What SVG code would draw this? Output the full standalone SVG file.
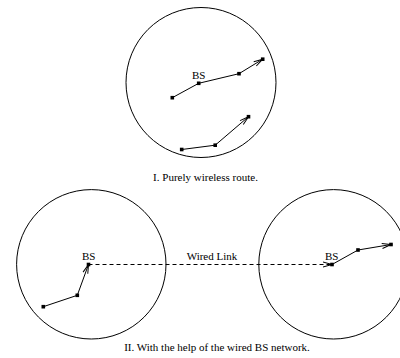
<svg xmlns="http://www.w3.org/2000/svg" width="400" height="358" viewBox="0 0 400 358">
<defs>
<style>
.cell{fill:none;stroke:#000;stroke-width:1}
.edge{fill:none;stroke:#000;stroke-width:1}
.dash{stroke-dasharray:4 3}
.node{fill:#000}
.lbl{font-family:"Liberation Serif","Times New Roman",serif;font-size:11px;fill:#000}
</style>
<marker id="arr" markerUnits="userSpaceOnUse" markerWidth="12" markerHeight="8" refX="9" refY="2.5" orient="auto" overflow="visible">
<path d="M0,0 L9,2.5 L0,5" fill="none" stroke="#000" stroke-width="1"/>
</marker>
</defs>
<rect width="400" height="358" fill="#fff"/>

<g id="cell-top">
<circle class="cell" cx="201" cy="82.5" r="75"/>
</g>
<g id="cell-left">
<circle class="cell" cx="91.3" cy="264.3" r="74.7"/>
</g>
<g id="cell-right">
<circle class="cell" cx="333.5" cy="264.3" r="74.7"/>
</g>

<g id="connectors">
<polyline class="edge" points="172.3,97.7 198.7,83.3 239,73.7"/>
<line class="edge" x1="239" y1="73.7" x2="262.7" y2="59.2" marker-end="url(#arr)"/>
<polyline class="edge" points="181.7,149.5 215.2,145.2"/>
<line class="edge" x1="215.2" y1="145.2" x2="248.5" y2="116.7" marker-end="url(#arr)"/>
<line class="edge" x1="43.3" y1="306.7" x2="77.3" y2="295.3"/>
<line class="edge" x1="77.3" y1="295.3" x2="88.5" y2="264.5" marker-end="url(#arr)"/>
<line class="edge dash" x1="88.5" y1="264.5" x2="332" y2="264.5" marker-end="url(#arr)"/>
<line class="edge" x1="332" y1="264.5" x2="358" y2="250"/>
<line class="edge" x1="358" y1="250" x2="391" y2="244.5" marker-end="url(#arr)"/>
</g>

<g id="nodes-top">
<rect class="node" x="170.5" y="95.9" width="3.6" height="3.6"/>
<rect class="node" x="196.9" y="81.5" width="3.6" height="3.6"/>
<rect class="node" x="237.2" y="71.9" width="3.6" height="3.6"/>
<rect class="node" x="260.9" y="57.4" width="3.6" height="3.6"/>
<rect class="node" x="179.9" y="147.7" width="3.6" height="3.6"/>
<rect class="node" x="213.4" y="143.4" width="3.6" height="3.6"/>
<rect class="node" x="246.7" y="114.9" width="3.6" height="3.6"/>
<text class="lbl" x="198.7" y="79" text-anchor="middle">BS</text>
</g>

<g id="nodes-left">
<rect class="node" x="41.5" y="304.9" width="3.6" height="3.6"/>
<rect class="node" x="75.5" y="293.5" width="3.6" height="3.6"/>
<rect class="node" x="86.7" y="262.7" width="3.6" height="3.6"/>
<text class="lbl" x="88.7" y="260" text-anchor="middle">BS</text>
</g>

<g id="nodes-right">
<rect class="node" x="330.2" y="262.7" width="3.6" height="3.6"/>
<rect class="node" x="356.2" y="248.2" width="3.6" height="3.6"/>
<rect class="node" x="389.2" y="242.7" width="3.6" height="3.6"/>
<text class="lbl" x="331.7" y="259.5" text-anchor="middle">BS</text>
</g>

<g id="labels">
<text class="lbl" x="212" y="260" text-anchor="middle">Wired Link</text>
<text class="lbl" x="205.5" y="181" text-anchor="middle">I. Purely wireless route.</text>
<text class="lbl" x="217" y="351" text-anchor="middle">II. With the help of the wired BS network.</text>
</g>
</svg>
